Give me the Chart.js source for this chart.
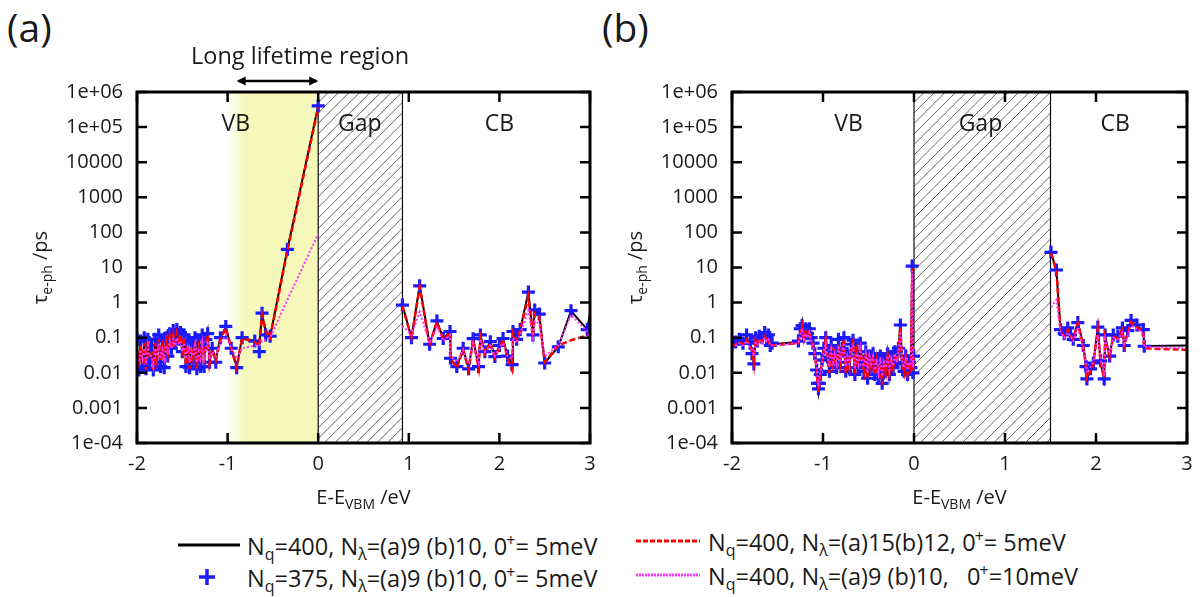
<!DOCTYPE html>
<html>
<head>
<meta charset="utf-8">
<script src="https://cdn.jsdelivr.net/npm/chart.js@4.4.1/dist/chart.umd.min.js"></script>
<style>
  body { margin: 0; background: #fff; width: 1200px; height: 597px; overflow: hidden; position: relative; font-family: "Open Sans", sans-serif; color: #1a1a1a; }
  canvas { position: absolute; top: 0; }
  #chartA { left: 0; }
  #chartB { left: 600px; }
  .panel { position: absolute; top: 7px; font-size: 39px; line-height: 1; }
  .leg { position: absolute; font-size: 23.5px; line-height: 1; white-space: nowrap; }
  .leg sub { font-size: 0.68em; vertical-align: -0.35em; }
  .leg sup { font-size: 0.68em; vertical-align: 0.55em; margin-left: -1px; }
  #legSamples { position: absolute; left: 0; top: 520px; }
</style>
</head>
<body>
<div class="panel" style="left:7px">(a)</div>
<div class="panel" style="left:602px">(b)</div>
<canvas id="chartA" width="600" height="520"></canvas>
<canvas id="chartB" width="600" height="520"></canvas>

<svg id="legSamples" width="1200" height="77">
  <line x1="178" y1="25" x2="240" y2="25" stroke="#000" stroke-width="3"/>
  <line x1="636" y1="21" x2="700" y2="21" stroke="#ff0000" stroke-width="3" stroke-dasharray="5,2"/>
  <line x1="199" y1="57" x2="215" y2="57" stroke="#1a1aff" stroke-width="3.5"/>
  <line x1="207" y1="49" x2="207" y2="65" stroke="#1a1aff" stroke-width="3.5"/>
  <line x1="636" y1="55" x2="700" y2="55" stroke="#ff33ff" stroke-width="3" stroke-dasharray="2,1"/>
</svg>
<div class="leg" style="left:247px;top:532px">N<sub>q</sub>=400, N<sub>λ</sub>=(a)9 (b)10, 0<sup>+</sup>= 5meV</div>
<div class="leg" style="left:708px;top:528px">N<sub>q</sub>=400, N<sub>λ</sub>=(a)15(b)12, 0<sup>+</sup>= 5meV</div>
<div class="leg" style="left:247px;top:564px">N<sub>q</sub>=375, N<sub>λ</sub>=(a)9 (b)10, 0<sup>+</sup>= 5meV</div>
<div class="leg" style="left:708px;top:562px">N<sub>q</sub>=400, N<sub>λ</sub>=(a)9 (b)10,&nbsp;&nbsp; 0<sup>+</sup>=10meV</div>

<script>
// tick labels
const yTickValues = [1e-4, 1e-3, 1e-2, 1e-1, 1, 10, 100, 1000, 10000, 1e5, 1e6];
const yTickLabels = ['1e-04', '0.001', '0.01', '0.1', '1', '10', '100', '1000', '10000', '1e+05', '1e+06'];

// ---- panel (a) : valence band side
const aVbE = [-2.00,-1.98,-1.96,-1.94,-1.92,-1.90,-1.88,-1.86,-1.84,-1.82,
  -1.80,-1.78,-1.76,-1.74,-1.72,-1.70,-1.68,-1.66,-1.64,-1.62,
  -1.60,-1.58,-1.56,-1.54,-1.52,-1.50,-1.48,-1.46,-1.44,-1.42,
  -1.40,-1.38,-1.36,-1.34,-1.32,-1.30,-1.28,-1.26,-1.24,-1.22,
  -1.20,-1.17,-1.13,-1.08,-1.02,-0.96,-0.90,-0.84,-0.70,-0.65,
  -0.62,-0.58,-0.53,-0.34,0.00];
const aVbBlack = [0.05,0.012,0.07,0.02,0.06,0.015,0.09,0.025,0.04,0.014,
  0.08,0.03,0.1,0.02,0.06,0.018,0.09,0.04,0.12,0.06,
  0.14,0.08,0.15,0.1,0.13,0.05,0.11,0.02,0.07,0.015,
  0.06,0.03,0.09,0.015,0.05,0.02,0.11,0.02,0.08,0.15,
  0.02,0.05,0.025,0.1,0.2,0.05,0.015,0.1,0.08,0.065,
  0.48,0.16,0.11,33,4e5];
const aVbRed = [0.04,0.015,0.06,0.018,0.07,0.012,0.08,0.03,0.035,0.012,
  0.07,0.025,0.09,0.022,0.05,0.02,0.08,0.035,0.11,0.05,
  0.12,0.07,0.14,0.09,0.12,0.045,0.1,0.018,0.06,0.013,
  0.055,0.025,0.08,0.013,0.045,0.018,0.1,0.018,0.07,0.12,
  0.018,0.045,0.022,0.09,0.19,0.05,0.014,0.095,0.075,0.06,
  0.45,0.15,0.1,30,3.6e5];
const aVbMagenta = [0.03,0.02,0.045,0.025,0.05,0.018,0.06,0.03,0.03,0.015,
  0.05,0.03,0.07,0.025,0.045,0.025,0.06,0.04,0.08,0.05,
  0.09,0.06,0.1,0.07,0.08,0.04,0.07,0.025,0.05,0.02,
  0.045,0.03,0.06,0.02,0.04,0.025,0.07,0.025,0.05,0.08,
  0.025,0.04,0.03,0.07,0.12,0.05,0.025,0.05,0.06,0.06,
  0.08,0.09,0.1,1.2,90];
const aVbBlue = [0.09,0.012,0.08,0.015,0.1,0.013,0.09,0.02,0.06,0.012,
  0.09,0.02,0.12,0.015,0.08,0.014,0.1,0.03,0.13,0.05,
  0.16,0.07,0.17,0.09,0.14,0.04,0.12,0.015,0.08,0.014,
  0.07,0.02,0.1,0.013,0.06,0.015,0.12,0.015,0.09,0.13,
  0.02,0.05,0.02,0.1,0.21,0.05,0.014,0.1,0.08,0.04,
  0.5,0.12,0.11,33,4e5];

// ---- panel (a) : conduction band side
const aCbE = [0.93,1.03,1.12,1.23,1.31,1.38,1.455,1.46,1.53,1.60,
  1.66,1.71,1.77,1.79,1.84,1.90,1.95,2.00,2.04,2.09,
  2.14,2.15,2.19,2.23,2.32,2.37,2.39,2.44,2.50,2.65,
  2.79,2.97,3.00];
const aCbBlack = [0.84,0.1,3.1,0.064,0.3,0.095,0.15,0.026,0.015,0.049,
  0.013,0.095,0.015,0.12,0.04,0.076,0.029,0.06,0.095,0.03,
  0.017,0.15,0.09,0.17,2.0,0.12,0.6,0.46,0.019,0.055,
  0.58,0.17,0.5];
const aCbRed = [0.8,0.1,2.8,0.06,0.28,0.09,0.14,0.024,0.014,0.045,
  0.012,0.09,0.014,0.11,0.035,0.07,0.027,0.055,0.09,0.025,
  0.012,0.14,0.085,0.16,1.5,0.11,0.5,0.4,0.02,0.06,
  0.085,0.115,0.12];
const aCbMagenta = [0.22,0.12,0.55,0.07,0.2,0.08,0.12,0.03,0.02,0.045,
  0.018,0.07,0.02,0.09,0.04,0.06,0.03,0.05,0.07,0.03,
  0.025,0.1,0.07,0.13,0.6,0.1,0.3,0.25,0.03,0.06,
  0.45,0.15,0.1];
const aCbBlue = [0.85,0.1,3.0,0.065,0.3,0.095,0.15,0.026,0.015,0.05,
  0.013,0.094,0.015,0.12,0.04,0.077,0.029,0.06,0.095,0.03,
  0.017,0.15,0.09,0.17,2.0,0.12,0.62,0.47,0.019,0.055,
  0.59,0.17,null];

// ---- panel (b) : valence band side
const bVbE = [-2.00,-1.96,-1.92,-1.88,-1.84,-1.80,-1.78,-1.76,-1.74,-1.72,
  -1.70,-1.67,-1.64,-1.62,-1.60,-1.58,-1.56,-1.27,-1.25,-1.23,
  -1.21,-1.19,-1.17,-1.15,-1.13,-1.11,-1.09,-1.07,-1.06,-1.05,
  -1.04,-1.03,-1.01,-0.99,-0.97,-0.95,-0.93,-0.91,-0.89,-0.87,
  -0.85,-0.83,-0.81,-0.79,-0.77,-0.75,-0.73,-0.71,-0.69,-0.67,
  -0.65,-0.63,-0.61,-0.59,-0.57,-0.55,-0.53,-0.51,-0.49,-0.47,
  -0.45,-0.43,-0.41,-0.39,-0.37,-0.35,-0.33,-0.31,-0.29,-0.27,
  -0.25,-0.23,-0.21,-0.19,-0.17,-0.15,-0.13,-0.11,-0.09,-0.07,
  -0.05,-0.035,-0.02,-0.012,-0.005];
const bVbBlack = [0.06,0.07,0.08,0.07,0.1,0.06,0.05,0.02,0.09,0.07,
  0.1,0.08,0.12,0.09,0.11,0.06,0.065,0.075,0.15,0.28,
  0.1,0.16,0.12,0.17,0.09,0.07,0.04,0.015,0.006,0.003,
  0.005,0.01,0.025,0.05,0.1,0.03,0.012,0.06,0.02,0.04,
  0.015,0.08,0.02,0.05,0.1,0.012,0.03,0.015,0.06,0.085,
  0.01,0.04,0.015,0.07,0.02,0.012,0.04,0.008,0.03,0.015,
  0.035,0.01,0.025,0.008,0.03,0.005,0.02,0.012,0.035,0.01,
  0.025,0.015,0.04,0.02,0.05,0.23,0.02,0.012,0.03,0.01,
  0.02,0.015,10.5,0.012,0.03];
const bVbRed = [0.055,0.065,0.075,0.065,0.09,0.055,0.045,0.018,0.085,0.065,
  0.095,0.075,0.11,0.085,0.1,0.055,0.06,0.07,0.14,0.22,
  0.09,0.15,0.11,0.16,0.08,0.065,0.035,0.012,0.005,0.0028,
  0.0045,0.009,0.022,0.045,0.09,0.025,0.01,0.055,0.018,0.035,
  0.013,0.07,0.018,0.045,0.09,0.01,0.025,0.013,0.055,0.08,
  0.009,0.035,0.013,0.065,0.018,0.01,0.035,0.007,0.025,0.013,
  0.03,0.009,0.022,0.007,0.025,0.0045,0.018,0.01,0.03,0.009,
  0.022,0.013,0.035,0.018,0.045,0.2,0.018,0.01,0.025,0.009,
  0.018,0.013,9.5,0.011,0.028];
const bVbMagenta = [0.05,0.06,0.07,0.06,0.08,0.05,0.045,0.03,0.07,0.06,
  0.08,0.07,0.1,0.08,0.09,0.06,0.06,0.07,0.12,0.18,
  0.09,0.13,0.1,0.14,0.08,0.06,0.035,0.015,0.007,0.004,
  0.006,0.01,0.02,0.04,0.07,0.03,0.015,0.045,0.02,0.035,
  0.018,0.06,0.02,0.045,0.07,0.015,0.03,0.018,0.05,0.06,
  0.013,0.035,0.018,0.05,0.02,0.015,0.035,0.01,0.03,0.018,
  0.03,0.012,0.025,0.01,0.028,0.008,0.02,0.014,0.03,0.012,
  0.025,0.016,0.035,0.02,0.04,0.15,0.02,0.014,0.028,0.012,
  0.02,0.016,8,0.014,0.028];
const bVbBlue = [0.065,0.075,0.09,0.07,0.12,0.07,0.035,0.018,0.1,0.08,
  0.11,0.1,0.14,0.1,0.12,0.06,0.07,0.08,0.18,0.22,
  0.11,0.18,0.13,0.18,0.1,0.07,0.035,0.012,0.005,0.0035,
  0.005,0.009,0.023,0.05,0.1,0.028,0.011,0.06,0.02,0.04,
  0.014,0.09,0.02,0.05,0.1,0.011,0.03,0.014,0.065,0.085,
  0.009,0.04,0.014,0.07,0.02,0.011,0.04,0.007,0.03,0.014,
  0.035,0.009,0.025,0.007,0.03,0.005,0.02,0.011,0.035,0.009,
  0.025,0.014,0.04,0.02,0.05,0.23,0.018,0.011,0.03,0.009,
  0.02,0.014,11,0.01,0.03];

// ---- panel (b) : conduction band side
const bCbE = [1.505,1.565,1.61,1.65,1.69,1.72,1.75,1.80,1.86,1.89,
  1.90,1.94,1.97,2.02,2.05,2.09,2.10,2.15,2.19,2.24,
  2.29,2.31,2.35,2.385,2.45,2.52,2.53,3.00];
const bCbBlack = [27.7,8.3,0.17,0.12,0.18,0.12,0.094,0.28,0.061,0.016,
  0.0067,0.012,0.018,0.195,0.02,0.0067,0.11,0.03,0.12,0.1,
  0.18,0.061,0.15,0.3,0.22,0.16,0.058,0.06];
const bCbRed = [26,8,0.16,0.11,0.17,0.11,0.09,0.26,0.058,0.015,
  0.007,0.011,0.017,0.18,0.019,0.007,0.1,0.028,0.11,0.095,
  0.17,0.058,0.14,0.28,0.2,0.15,0.05,0.045];
const bCbMagenta = [0.74,1.2,0.15,0.1,0.14,0.11,0.08,0.2,0.05,0.02,
  0.01,0.015,0.02,0.12,0.025,0.008,0.09,0.035,0.1,0.09,
  0.14,0.06,0.12,0.22,0.18,0.12,0.055,0.05];
const bCbBlue = [27,8.5,0.17,0.13,0.19,0.12,0.09,0.27,0.06,0.015,
  0.0067,0.013,0.019,0.2,0.022,0.0067,0.12,0.03,0.12,0.11,
  0.19,0.06,0.16,0.31,0.23,0.17,0.057,null];

const fontFamily = '"Open Sans", sans-serif';

// joins the VB and CB parts with a null point so the line breaks across the gap
function pts(vbE, vbV, cbE, cbV) {
  const out = vbE.map((e, i) => ({x: e, y: vbV[i]}));
  out.push({x: (vbE[vbE.length - 1] + cbE[0]) / 2, y: null});
  cbE.forEach((e, i) => out.push({x: e, y: cbV[i]}));
  return out;
}

// draws text made of pieces [text, size, baselineShift]
function drawParts(ctx, parts, cx, cy) {
  let total = 0;
  parts.forEach(p => { ctx.font = p[1] + 'px ' + fontFamily; total += ctx.measureText(p[0]).width; });
  let xx = cx - total / 2;
  ctx.textAlign = 'left';
  ctx.textBaseline = 'alphabetic';
  parts.forEach(p => {
    ctx.font = p[1] + 'px ' + fontFamily;
    ctx.fillText(p[0], xx, cy + p[2]);
    xx += ctx.measureText(p[0]).width;
  });
}

const decor = {
  id: 'decor',
  beforeDatasetsDraw(chart, args, o) {
    const {ctx, chartArea: a, scales: {x}} = chart;
    ctx.save();
    // long lifetime shading
    if (o.shade) {
      const s0 = x.getPixelForValue(o.shade[0]), s1 = x.getPixelForValue(o.shade[1]), s2 = x.getPixelForValue(o.shade[2]);
      const grad = ctx.createLinearGradient(s0, 0, s2, 0);
      grad.addColorStop(0, 'rgba(246,248,186,0)');
      grad.addColorStop((s1 - s0) / (s2 - s0), 'rgba(246,248,186,1)');
      grad.addColorStop(1, 'rgba(246,248,186,1)');
      ctx.fillStyle = grad;
      ctx.fillRect(s0, a.top, s2 - s0, a.bottom - a.top);
    }
    // hatched gap
    const g0 = x.getPixelForValue(o.gap[0]), g1 = x.getPixelForValue(o.gap[1]);
    ctx.save();
    ctx.beginPath();
    ctx.rect(g0, a.top, g1 - g0, a.bottom - a.top);
    ctx.clip();
    ctx.strokeStyle = '#666';
    ctx.lineWidth = 1;
    ctx.beginPath();
    const h = a.bottom - a.top;
    for (let s = g0 - h; s < g1; s += 10.5) {
      ctx.moveTo(s, a.bottom);
      ctx.lineTo(s + h, a.top);
    }
    ctx.stroke();
    ctx.restore();
    ctx.strokeStyle = '#111';
    ctx.lineWidth = 1.2;
    ctx.beginPath();
    ctx.moveTo(g0, a.top); ctx.lineTo(g0, a.bottom);
    ctx.moveTo(g1, a.top); ctx.lineTo(g1, a.bottom);
    ctx.stroke();
    // region names
    ctx.fillStyle = '#1a1a1a';
    ctx.font = '23px ' + fontFamily;
    ctx.textAlign = 'center';
    ctx.textBaseline = 'middle';
    o.regions.forEach(r => ctx.fillText(r.text, x.getPixelForValue(r.at), a.top + 32));
    ctx.restore();
  },
  afterDatasetsDraw(chart, args, o) {
    const {ctx, chartArea: a, scales: {x, y}} = chart;
    ctx.save();
    ctx.strokeStyle = '#000';
    ctx.lineWidth = 2.5;
    ctx.beginPath();
    yTickValues.forEach(v => {
      const py = y.getPixelForValue(v);
      ctx.moveTo(a.left, py); ctx.lineTo(a.left + 10, py);
      ctx.moveTo(a.right, py); ctx.lineTo(a.right - 10, py);
    });
    x.ticks.forEach(t => {
      const px = x.getPixelForValue(t.value);
      ctx.moveTo(px, a.bottom); ctx.lineTo(px, a.bottom - 10);
      ctx.moveTo(px, a.top); ctx.lineTo(px, a.top + 10);
    });
    ctx.stroke();
    ctx.lineWidth = 3;
    ctx.strokeRect(a.left, a.top, a.right - a.left, a.bottom - a.top);

    ctx.fillStyle = '#1a1a1a';
    // axis titles
    drawParts(ctx, [['E-E', 20, 0], ['VBM', 14, 5], [' /eV', 20, 0]], (a.left + a.right) / 2, a.bottom + 61);
    ctx.save();
    ctx.translate(a.left - 90, (a.top + a.bottom) / 2);
    ctx.rotate(-Math.PI / 2);
    drawParts(ctx, [['τ', 20, 0], ['e-ph', 14, 5], [' /ps', 20, 0]], 0, 0);
    ctx.restore();

    // long lifetime note above the plot
    if (o.note) {
      ctx.font = '23.5px ' + fontFamily;
      ctx.textAlign = 'center';
      ctx.textBaseline = 'middle';
      ctx.fillText(o.note.text, x.getPixelForValue(o.note.at), a.top - 35);
      const l = x.getPixelForValue(o.note.from), r = x.getPixelForValue(o.note.to), ay = a.top - 11;
      ctx.lineWidth = 2.5;
      ctx.beginPath();
      ctx.moveTo(l + 2, ay); ctx.lineTo(r - 2, ay);
      ctx.stroke();
      ctx.fillStyle = '#000';
      ctx.beginPath();
      ctx.moveTo(l, ay); ctx.lineTo(l + 9, ay - 4.5); ctx.lineTo(l + 9, ay + 4.5); ctx.closePath();
      ctx.moveTo(r, ay); ctx.lineTo(r - 9, ay - 4.5); ctx.lineTo(r - 9, ay + 4.5); ctx.closePath();
      ctx.fill();
    }
    ctx.restore();
  }
};

function makeChart(id, sets, deco, axisWidth, padRight) {
  return new Chart(document.getElementById(id), {
    type: 'line',
    data: {
      datasets: [
        {data: sets.magenta, borderColor: '#ff33ff', borderWidth: 2, borderDash: [2, 2], pointRadius: 0, order: 0},
        {data: sets.red, borderColor: '#ff0000', borderWidth: 2.5, borderDash: [6, 3], pointRadius: 0, order: 1},
        {data: sets.blue, showLine: false, pointStyle: 'cross', pointRadius: 6.5, pointBorderWidth: 3.2,
          pointBorderColor: '#1a1aff', borderColor: '#1a1aff', order: 2},
        {data: sets.black, borderColor: '#000', borderWidth: 2, pointRadius: 0, order: 3}
      ]
    },
    options: {
      responsive: false,
      animation: false,
      devicePixelRatio: 1,
      layout: {padding: {top: 92, right: padRight, left: 0, bottom: 0}},
      plugins: {legend: {display: false}, tooltip: {enabled: false}, decor: deco},
      scales: {
        x: {
          type: 'linear', min: -2, max: 3,
          ticks: {stepSize: 1, color: '#1a1a1a', font: {family: fontFamily, size: 20}, padding: 9},
          grid: {display: false, drawTicks: false},
          border: {display: false},
          afterFit(s) { s.height = 77; s.paddingLeft = 0; s.paddingRight = 0; }
        },
        y: {
          type: 'logarithmic', min: 1e-4, max: 1e6,
          afterBuildTicks(s) { s.ticks = yTickValues.map(v => ({value: v})); },
          ticks: {autoSkip: false, color: '#1a1a1a', font: {family: fontFamily, size: 20}, padding: 14,
            callback: (v, i) => yTickLabels[i]},
          grid: {display: false, drawTicks: false},
          border: {display: false},
          afterFit(s) { s.width = axisWidth; s.paddingTop = 0; s.paddingBottom = 0; }
        }
      }
    },
    plugins: [decor]
  });
}

makeChart('chartA', {
  black: pts(aVbE, aVbBlack, aCbE, aCbBlack),
  blue: pts(aVbE, aVbBlue, aCbE, aCbBlue),
  red: pts(aVbE, aVbRed, aCbE, aCbRed),
  magenta: pts(aVbE, aVbMagenta, aCbE, aCbMagenta)
}, {
  shade: [-1.0, -0.82, 0],
  gap: [0, 0.93],
  regions: [{text: 'VB', at: -0.91}, {text: 'Gap', at: 0.46}, {text: 'CB', at: 2.0}],
  note: {text: 'Long lifetime region', at: -0.2, from: -0.9, to: 0}
}, 137, 10);

makeChart('chartB', {
  black: pts(bVbE, bVbBlack, bCbE, bCbBlack),
  blue: pts(bVbE, bVbBlue, bCbE, bCbBlue),
  red: pts(bVbE, bVbRed, bCbE, bCbRed),
  magenta: pts(bVbE, bVbMagenta, bCbE, bCbMagenta)
}, {
  shade: null,
  gap: [0, 1.5],
  regions: [{text: 'VB', at: -0.72}, {text: 'Gap', at: 0.73}, {text: 'CB', at: 2.21}],
  note: null
}, 132, 13);
</script>
</body>
</html>
